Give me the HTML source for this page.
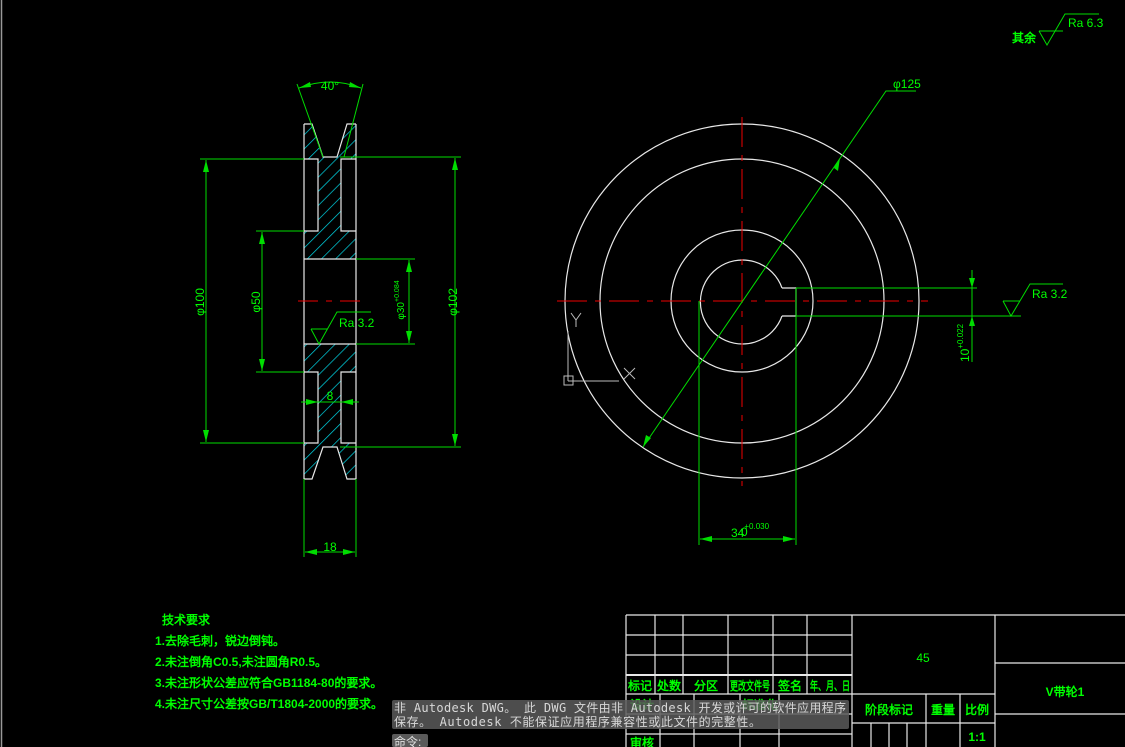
<!DOCTYPE html>
<html><head><meta charset="utf-8"><style>
html,body{margin:0;padding:0;background:#000;width:1125px;height:747px;overflow:hidden}
svg{display:block}
.g{fill:#00ff00;font-family:"Liberation Sans","WenQuanYi Zen Hei",sans-serif;font-size:12px}
.cn{fill:#00ff00;font-family:"Liberation Sans","WenQuanYi Zen Hei",sans-serif;font-size:12px;font-weight:bold}
</style></head><body>
<svg width="1125" height="747" viewBox="0 0 1125 747" xmlns="http://www.w3.org/2000/svg">
<defs>
<pattern id="h" patternUnits="userSpaceOnUse" width="10" height="10" patternTransform="rotate(45)">
<line x1="0" y1="0" x2="0" y2="10" stroke="#00d8e8" stroke-width="1.4"/>
</pattern>
</defs>
<rect width="1125" height="747" fill="#000"/>
<line x1="1.5" y1="0" x2="1.5" y2="747" stroke="#999" stroke-width="1.5"/>

<!-- LEFT VIEW -->
<path d="M304,124 L312,124 L323,157 L337,157 L347,124 L356,124 L356,159 L341,159 L341,231 L356,231 L356,259 L304,259 L304,231 L318,231 L318,159 L304,159 Z" fill="url(#h)"/>
<path d="M304,344 L356,344 L356,372 L341,372 L341,443 L356,443 L356,479 L347,479 L337,447 L323,447 L312,479 L304,479 L304,443 L318,443 L318,372 L304,372 Z" fill="url(#h)"/>
<g stroke="#e8e8e8" stroke-width="1.2" fill="none">
<line x1="304" y1="124" x2="304" y2="479"/>
<line x1="356" y1="124" x2="356" y2="479"/>
<polyline points="304,124 312,124 323,157 337,157 347,124 356,124"/>
<polyline points="304,479 312,479 323,447 337,447 347,479 356,479"/>
<polyline points="304,159 318,159 318,231 304,231"/>
<polyline points="356,159 341,159 341,231 356,231"/>
<polyline points="304,443 318,443 318,372 304,372"/>
<polyline points="356,443 341,443 341,372 356,372"/>
<line x1="304" y1="259" x2="356" y2="259"/>
<line x1="304" y1="344" x2="356" y2="344"/>
</g>
<line x1="298" y1="301" x2="362" y2="301" stroke="#e00" stroke-dasharray="20,8,6,8"/>
<g stroke="#00dd00" stroke-width="1" fill="none">
<line x1="200" y1="159" x2="304" y2="159"/><line x1="200" y1="443" x2="304" y2="443"/>
<line x1="206" y1="160" x2="206" y2="442"/>
<line x1="256" y1="231" x2="304" y2="231"/><line x1="256" y1="372" x2="304" y2="372"/>
<line x1="262" y1="232" x2="262" y2="371"/>
<line x1="356" y1="259" x2="415" y2="259"/><line x1="356" y1="344" x2="415" y2="344"/>
<line x1="409" y1="260" x2="409" y2="343"/>
<line x1="340" y1="157" x2="461" y2="157"/><line x1="340" y1="447" x2="461" y2="447"/>
<line x1="455" y1="158" x2="455" y2="446"/>
<line x1="297" y1="84" x2="323" y2="157"/><line x1="363" y1="84" x2="344" y2="157"/>
<path d="M299,88 Q330,76 361,88"/>
<line x1="301" y1="402" x2="359" y2="402"/>
<line x1="304" y1="479" x2="304" y2="557"/><line x1="356" y1="479" x2="356" y2="557"/>
<line x1="305" y1="552" x2="355" y2="552"/>
<path d="M311,329 L327,329 M311,329 L319,344 L337,312 L371,312"/>
</g>
<g fill="#00dd00">
<polygon points="206,160 203,172 209,172"/><polygon points="206,442 203,430 209,430"/>
<polygon points="262,232 259,244 265,244"/><polygon points="262,371 259,359 265,359"/>
<polygon points="409,260 406,272 412,272"/><polygon points="409,343 406,331 412,331"/>
<polygon points="455,158 452,170 458,170"/><polygon points="455,446 452,434 458,434"/>
<polygon points="305,552 317,549 317,555"/><polygon points="355,552 343,549 343,555"/>
<polygon points="318,402 306,399 306,405"/><polygon points="341,402 353,399 353,405"/>
<polygon points="299,88 310,82 311,87"/><polygon points="361,88 350,82 349,87"/>
</g>
<text class="g" x="330" y="90" text-anchor="middle">40°</text>
<text class="g" x="330" y="400" text-anchor="middle">8</text>
<text class="g" x="330" y="551" text-anchor="middle">18</text>
<text class="g" x="339" y="327">Ra 3.2</text>
<text class="g" transform="translate(204,302) rotate(-90)" text-anchor="middle">φ100</text>
<text class="g" transform="translate(260,302) rotate(-90)" text-anchor="middle">φ50</text>
<text class="g" transform="translate(457,302) rotate(-90)" text-anchor="middle">φ102</text>
<text class="g" style="font-size:10px" transform="translate(404,300) rotate(-90)" text-anchor="middle">φ30<tspan dy="-5" font-size="7">+0.084</tspan></text>

<!-- RIGHT VIEW -->
<g stroke="#e8e8e8" stroke-width="1.2" fill="none">
<circle cx="742" cy="301" r="177"/>
<circle cx="742" cy="301" r="142"/>
<circle cx="742" cy="301" r="71"/>
<path d="M782,288 A42,42 0 1 0 782,316"/>
<polyline points="782,288 796,288 796,316 782,316"/>
</g>
<line x1="557" y1="301" x2="928" y2="301" stroke="#e00" stroke-dasharray="30,8,6,8"/>
<line x1="742" y1="117" x2="742" y2="486" stroke="#e00" stroke-dasharray="30,8,6,8"/>
<g stroke="#00dd00" stroke-width="1" fill="none">
<polyline points="643,447 886,91 916,91"/>
<line x1="699" y1="301" x2="699" y2="545"/><line x1="796" y1="288" x2="796" y2="545"/>
<line x1="700" y1="539" x2="795" y2="539"/>
<line x1="796" y1="288" x2="977" y2="288"/>
<line x1="796" y1="316" x2="1021" y2="316"/>
<line x1="972" y1="270" x2="972" y2="362"/>
<path d="M1003,301 L1020,301 M1003,301 L1011,316 L1030,284 L1063,284"/>
</g>
<g fill="#00dd00">
<polygon points="643,447 646,435 651,438"/>
<polygon points="840,158 834,168 838,171"/>
<polygon points="700,539 712,536 712,542"/><polygon points="795,539 783,536 783,542"/>
<polygon points="972,288 969,278 975,278"/><polygon points="972,316 969,326 975,326"/>
</g>
<text class="g" x="893" y="88">φ125</text>
<text class="g" x="731" y="537">34<tspan dy="-8" font-size="8">+0.030</tspan></text>
<text class="g" x="732" y="536" font-size="8" dx="9">0</text>
<text class="g" transform="translate(969,362) rotate(-90)">10<tspan dy="-6" font-size="8">+0.022</tspan></text>
<text class="g" x="1032" y="298">Ra 3.2</text>
<g stroke="#bbb" stroke-width="1" fill="none">
<line x1="568" y1="331" x2="568" y2="381"/><line x1="568" y1="381" x2="619" y2="381"/>
<rect x="564" y="376" width="9" height="9"/>
<polyline points="571,313 576,320 581,313"/><line x1="576" y1="320" x2="576" y2="327"/>
<line x1="624" y1="368" x2="635" y2="379"/><line x1="635" y1="368" x2="624" y2="379"/>
</g>

<text class="cn" x="1012" y="42">其余</text>
<path d="M1039,31 L1063,31 M1039,31 L1047,45 L1065,14 L1099,14" stroke="#00dd00" fill="none"/>
<text class="g" x="1068" y="27">Ra 6.3</text>

<text class="cn" x="162" y="624">技术要求</text>
<text class="cn" x="155" y="645">1.去除毛刺，锐边倒钝。</text>
<text class="cn" x="155" y="666">2.未注倒角C0.5,未注圆角R0.5。</text>
<text class="cn" x="155" y="687">3.未注形状公差应符合GB1184-80的要求。</text>
<text class="cn" x="155" y="708">4.未注尺寸公差按GB/T1804-2000的要求。</text>

<g stroke="#e8e8e8" stroke-width="1.2" fill="none">
<line x1="626" y1="615" x2="1125" y2="615"/>
<line x1="626" y1="615" x2="626" y2="747"/>
<line x1="626" y1="635" x2="852" y2="635"/>
<line x1="626" y1="655" x2="852" y2="655"/>
<line x1="626" y1="675" x2="852" y2="675" stroke-width="2"/>
<line x1="626" y1="694" x2="995" y2="694"/>
<line x1="626" y1="714" x2="852" y2="714"/>
<line x1="626" y1="734" x2="852" y2="734"/>
<line x1="655" y1="615" x2="655" y2="694"/>
<line x1="683" y1="615" x2="683" y2="694"/>
<line x1="728" y1="615" x2="728" y2="694"/>
<line x1="773" y1="615" x2="773" y2="694"/>
<line x1="807" y1="615" x2="807" y2="694"/>
<line x1="660" y1="694" x2="660" y2="747"/>
<line x1="694" y1="694" x2="694" y2="747"/>
<line x1="740" y1="694" x2="740" y2="747"/>
<line x1="779" y1="694" x2="779" y2="747"/>
<line x1="852" y1="615" x2="852" y2="747"/>
<line x1="995" y1="615" x2="995" y2="747"/>
<line x1="852" y1="723" x2="995" y2="723"/>
<line x1="926" y1="694" x2="926" y2="747"/>
<line x1="960" y1="694" x2="960" y2="747"/>
<line x1="871" y1="723" x2="871" y2="747"/>
<line x1="889" y1="723" x2="889" y2="747"/>
<line x1="907" y1="723" x2="907" y2="747"/>
<line x1="995" y1="663" x2="1125" y2="663"/>
<line x1="995" y1="714" x2="1125" y2="714"/>
</g>
<text class="g" x="923" y="662" text-anchor="middle" font-size="16">45</text>
<text class="cn" x="1065" y="696" text-anchor="middle" font-size="15">V带轮1</text>
<text class="cn" x="640" y="690" text-anchor="middle" font-size="11">标记</text>
<text class="cn" x="669" y="690" text-anchor="middle" font-size="11">处数</text>
<text class="cn" x="706" y="690" text-anchor="middle" font-size="11">分区</text>
<text class="cn" x="750" y="690" text-anchor="middle" font-size="10" textLength="40" lengthAdjust="spacingAndGlyphs">更改文件号</text>
<text class="cn" x="790" y="690" text-anchor="middle" font-size="11">签名</text>
<text class="cn" x="830" y="690" text-anchor="middle" font-size="10" textLength="40" lengthAdjust="spacingAndGlyphs">年、月、日</text>
<text class="cn" x="889" y="714" text-anchor="middle" font-size="11">阶段标记</text>
<text class="cn" x="943" y="714" text-anchor="middle" font-size="11">重量</text>
<text class="cn" x="977" y="714" text-anchor="middle" font-size="11">比例</text>
<text class="cn" x="977" y="741" text-anchor="middle" font-size="11">1:1</text>
<text class="cn" x="642" y="709" text-anchor="middle" font-size="11">设计</text>
<text class="cn" x="760" y="709" text-anchor="middle" font-size="11">标准化</text>
<text class="cn" x="642" y="747" text-anchor="middle" font-size="11">审核</text>

<rect x="392" y="700" width="457" height="29" rx="2" fill="#5a5a5a" fill-opacity="0.85"/>
<text x="394" y="712" fill="#d8d8d8" font-family="DejaVu Sans Mono,WenQuanYi Zen Hei,monospace" font-size="12" textLength="452">非 Autodesk DWG。 此 DWG 文件由非 Autodesk 开发或许可的软件应用程序</text>
<text x="394" y="726" fill="#d8d8d8" font-family="DejaVu Sans Mono,WenQuanYi Zen Hei,monospace" font-size="12" textLength="367">保存。 Autodesk 不能保证应用程序兼容性或此文件的完整性。</text>
<rect x="392" y="734" width="36" height="13" rx="2" fill="#5a5a5a"/>
<text x="394" y="746" fill="#e0e0e0" font-family="WenQuanYi Zen Hei,sans-serif" font-size="12">命令:</text>
</svg>
</body></html>
